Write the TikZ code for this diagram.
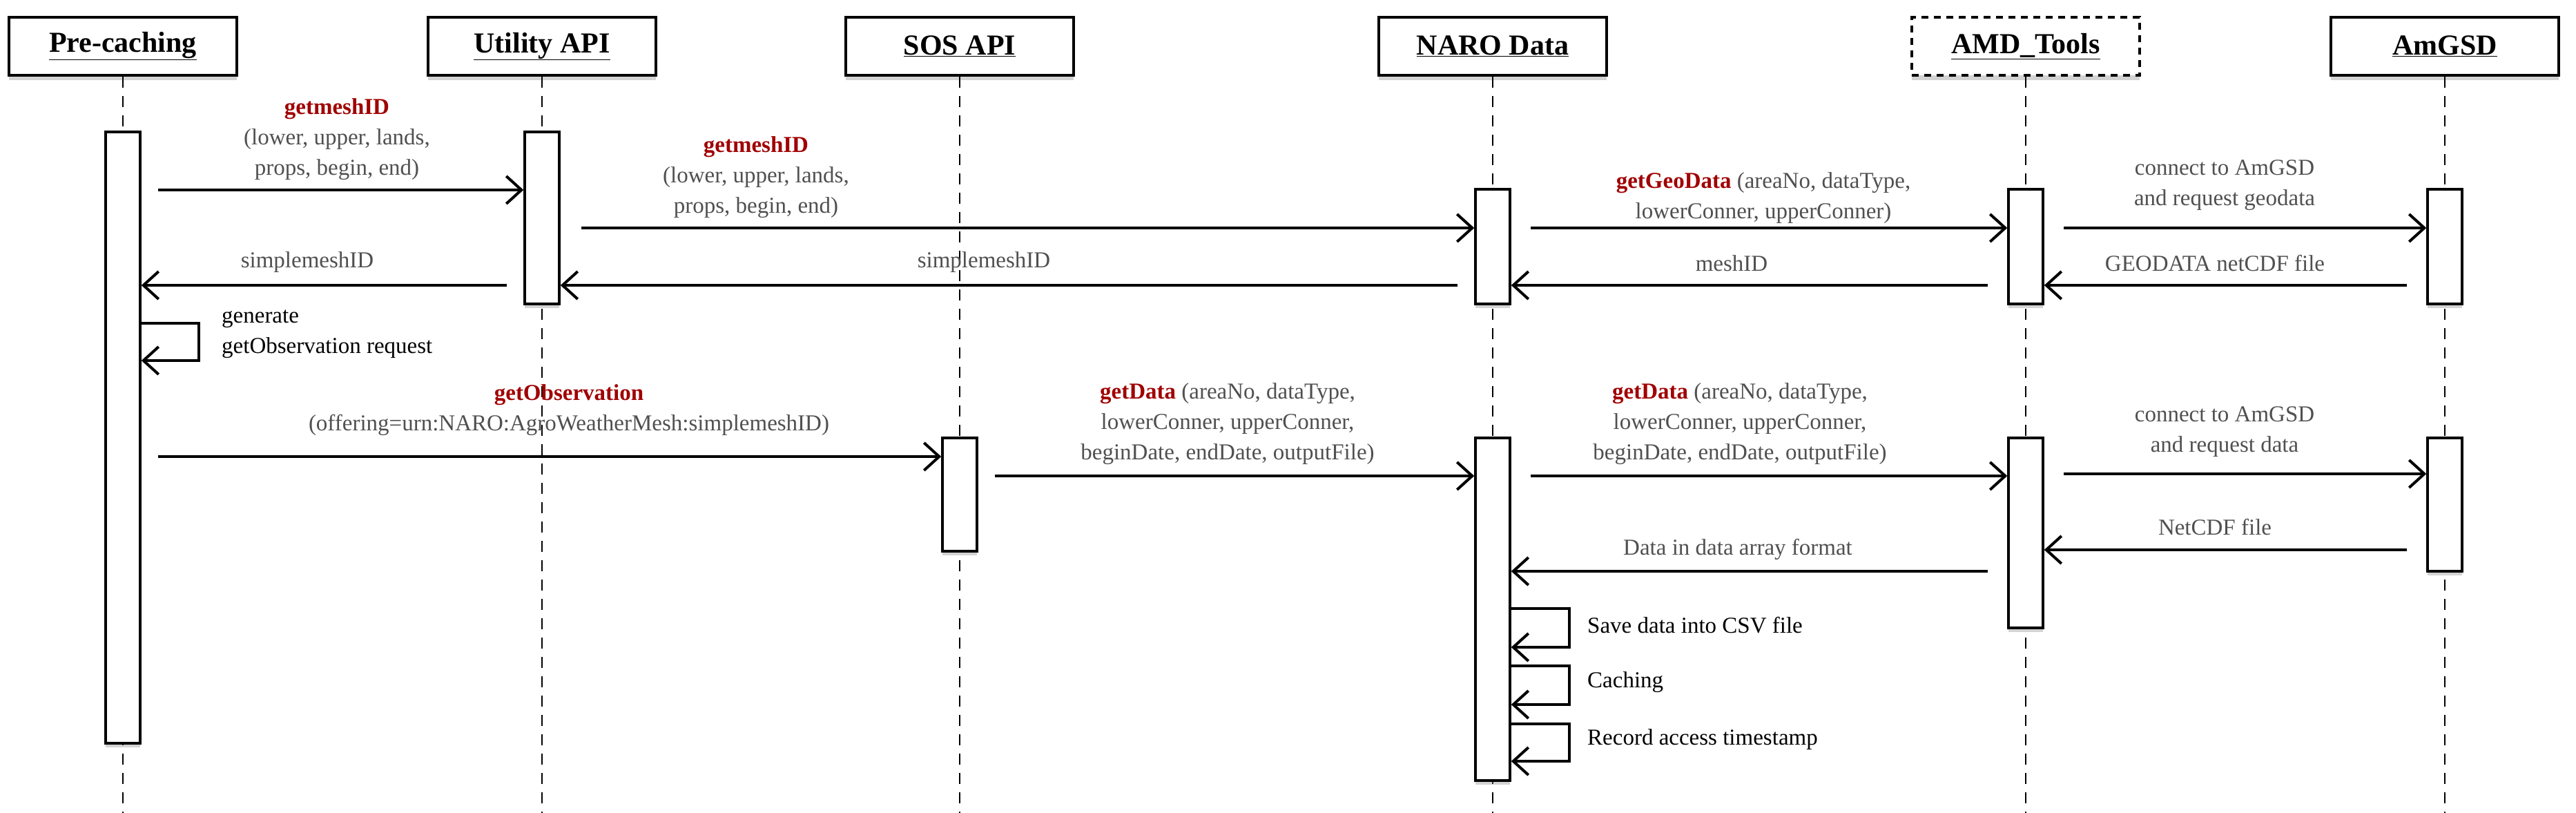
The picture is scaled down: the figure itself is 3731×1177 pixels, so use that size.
\documentclass[tikz,border=0pt]{standalone}
\usepackage{fontspec}
\setmainfont{Liberation Serif}
\usetikzlibrary{arrows.meta,shadows}
\definecolor{mred}{HTML}{A00000}
\definecolor{mgray}{HTML}{505050}
\begin{document}
\begin{tikzpicture}[x=1pt,y=-1pt,
  head/.style={draw,line width=4pt,fill=white,minimum width=330pt,minimum height=84pt,
    font=\fontsize{42}{50}\selectfont\bfseries,drop shadow={shadow xshift=0pt,shadow yshift=-7pt,opacity=.35}},
  life/.style={line width=2.5pt,dash pattern=on 16pt off 12pt},
  bar/.style={draw,line width=3.5pt,fill=white,minimum width=50pt,inner sep=0pt,
    drop shadow={shadow xshift=0pt,shadow yshift=-6pt,opacity=.35}},
  msg/.style={line width=4pt,-{Straight Barb[length=22pt,width=40pt,line width=4pt]}},
  lbl/.style={text=mgray,align=center,font=\fontsize{33}{44}\selectfont,inner sep=0pt},
  blk/.style={text=black,align=left,font=\fontsize{33}{44}\selectfont,inner sep=0pt,anchor=west}]
\useasboundingbox (0,0) rectangle (3731,1177);
% headers
\node[head] (pc) at (178,67) {\underline{Pre-caching}};
\node[head] (ut) at (785,67) {\underline{Utility API}};
\node[head] (sos) at (1390,67) {\underline{SOS API}};
\node[head] (naro) at (2162,67) {\underline{NARO Data}};
\node[head,dash pattern=on 10pt off 8pt] (amd) at (2934,67) {\underline{AMD\_Tools}};
\node[head] (gsd) at (3541,67) {\underline{AmGSD}};
% lifelines
\foreach \n/\x in {pc/178,ut/785,sos/1390,naro/2162,amd/2934,gsd/3541}{
  \coordinate (\n-end) at (\x,1177);
  \draw[life] (\n.south) -- (\n-end);
}
% activation bars
\node[bar,minimum height=885pt] (apc) at (178,633.5) {};
\node[bar,minimum height=249pt] (aut) at (785,315.5) {};
\node[bar,minimum height=166pt] (an1) at (2162,357) {};
\node[bar,minimum height=166pt] (am1) at (2934,357) {};
\node[bar,minimum height=166pt] (ag1) at (3541,357) {};
\node[bar,minimum height=164pt] (asos) at (1390,716) {};
\node[bar,minimum height=496pt] (an2) at (2162,882) {};
\node[bar,minimum height=275pt] (am2) at (2934,771.5) {};
\node[bar,minimum height=193pt] (ag2) at (3541,730.5) {};
% messages
\draw[msg,shorten <=24pt] (apc.east |- 0,275) -- (aut.west |- 0,275);
\node[lbl] (l1) at (488,202) {{\color{mred}\bfseries getmeshID}\\(lower, upper, lands,\\props, begin, end)};
\draw[msg,shorten <=30pt] (aut.east |- 0,330) -- (an1.west |- 0,330);
\node[lbl] (l2) at (1095,257) {{\color{mred}\bfseries getmeshID}\\(lower, upper, lands,\\props, begin, end)};
\draw[msg,shorten <=24pt] (aut.west |- 0,413) -- (apc.east |- 0,413);
\node[lbl] (l3) at (445,380) {simplemeshID};
\draw[msg,shorten <=24pt] (an1.west |- 0,413) -- (aut.east |- 0,413);
\node[lbl] (l4) at (1425,380) {simplemeshID};
\draw[msg,shorten <=28pt] (an1.east |- 0,330) -- (am1.west |- 0,330);
\node[lbl] (l5) at (2554,287) {{\color{mred}\bfseries getGeoData} (areaNo, dataType,\\lowerConner, upperConner)};
\draw[msg,shorten <=28pt] (am1.east |- 0,330) -- (ag1.west |- 0,330);
\node[lbl] (l6) at (3222,268) {connect to AmGSD\\and request geodata};
\draw[msg,shorten <=28pt] (am1.west |- 0,413) -- (an1.east |- 0,413);
\node[lbl] (l7) at (2508,381) {meshID};
\draw[msg,shorten <=28pt] (ag1.west |- 0,413) -- (am1.east |- 0,413);
\node[lbl] (l8) at (3208,381) {GEODATA netCDF file};
% self message generate
\coordinate (s1a) at (apc.east |- 0,468);
\coordinate (s1b) at (288,468);
\coordinate (s1c) at (288,522);
\draw[msg] (s1a) -- (s1b) -- (s1c) -- (apc.east |- s1c);
\node[blk] (l9) at (321,484) {generate\\getObservation request};
% getObservation
\draw[msg,shorten <=24pt] (apc.east |- 0,661) -- (asos.west |- 0,661);
\node[lbl] (l10) at (824,594) {{\color{mred}\bfseries getObservation}\\(offering=urn:NARO:AgroWeatherMesh:simplemeshID)};
\draw[msg,shorten <=24pt] (asos.east |- 0,689) -- (an2.west |- 0,689);
\node[lbl] (l11) at (1778,614) {{\color{mred}\bfseries getData} (areaNo, dataType,\\lowerConner, upperConner,\\beginDate, endDate, outputFile)};
\draw[msg,shorten <=28pt] (an2.east |- 0,689) -- (am2.west |- 0,689);
\node[lbl] (l12) at (2520,614) {{\color{mred}\bfseries getData} (areaNo, dataType,\\lowerConner, upperConner,\\beginDate, endDate, outputFile)};
\draw[msg,shorten <=28pt] (am2.east |- 0,686) -- (ag2.west |- 0,686);
\node[lbl] (l13) at (3222,625) {connect to AmGSD\\and request data};
\draw[msg,shorten <=28pt] (ag2.west |- 0,796) -- (am2.east |- 0,796);
\node[lbl] (l14) at (3208,763) {NetCDF file};
\draw[msg,shorten <=28pt] (am2.west |- 0,827) -- (an2.east |- 0,827);
\node[lbl] (l15) at (2517,795) {Data in data array format};
% self messages on NARO
\foreach \t/\b/\txt/\nm in {881/937/Save data into CSV file/sa,964/1020/Caching/sb,1048/1102/Record access timestamp/sc}{
  \coordinate (\nm1) at (2273,\t);
  \coordinate (\nm2) at (2273,\b);
  \draw[msg] (an2.east |- \nm1) -- (\nm1) -- (\nm2) -- (an2.east |- \nm2);
  \node[blk] (\nm-l) at (2299,{(\t+\b)/2-4}) {\txt};
}
\end{tikzpicture}
\end{document}
